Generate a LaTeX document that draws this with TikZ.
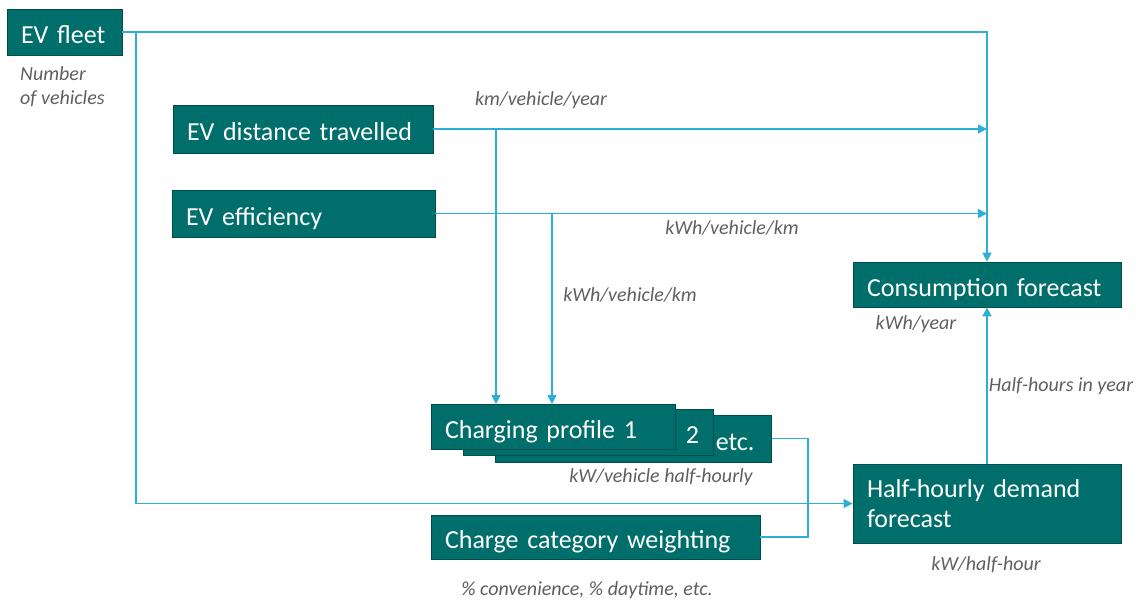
\documentclass[tikz,border=0pt]{standalone}
\usepackage{fontspec}
\setmainfont{Carlito}
\usetikzlibrary{arrows.meta}
\definecolor{boxfill}{RGB}{0,110,106}
\definecolor{boxline}{RGB}{0,78,76}
\definecolor{conn}{RGB}{45,176,216}
\definecolor{lbl}{RGB}{95,95,95}
\begin{document}
\begin{tikzpicture}[x=1pt,y=-1pt,
  box/.style={rectangle, fill=boxfill, draw=boxline, line width=0.8pt, text=white,
    font=\fontsize{26}{30}\selectfont, inner xsep=14pt, inner ysep=0pt, align=left},
  one/.style={box, text height=26pt, text depth=3pt},
  rbox/.style={one, align=right},
  lab/.style={text=lbl, font=\fontsize{20}{24}\selectfont\itshape, inner sep=0pt},
  link/.style={draw=conn, line width=1.6pt},
  arr/.style={link, -{Triangle[length=9pt,width=9pt]}}]
\useasboundingbox (0,0) rectangle (1136,603);
% nodes
\node[one, text width=87pt, minimum height=46pt] (fleet) at (64.5,32) {EV fleet};
\node[one, text width=232pt, minimum height=48pt] (dist) at (303,129) {EV distance travelled};
\node[one, text width=235pt, minimum height=47pt] (eff) at (303.5,213.5) {EV efficiency};
\node[one, text width=240pt, minimum height=45pt] (cons) at (987,284.5) {Consumption forecast};
\node[box, text width=240pt, minimum height=79pt] (hh) at (987,503.5) {Half-hourly demand\\forecast};
\node[rbox, text width=242pt, minimum height=47pt, inner xsep=17pt] (cp3) at (633.5,438.5) {etc.};
\node[rbox, text width=222pt, minimum height=46pt] (cp2) at (588,432) {2};
\node[one, text width=216pt, minimum height=45pt] (cp1) at (553,427) {Charging profile 1};
\node[one, text width=301pt, minimum height=44pt] (cat) at (595.5,537) {Charge category weighting};
% labels
\node[lab, anchor=north west, align=left] (lfleet) at (20,66) {Number\\of vehicles};
\node[lab] (ldist) at (541,100) {km/vehicle/year};
\node[lab] (leff) at (732,228) {kWh/vehicle/km};
\node[lab] (leff2) at (630,295) {kWh/vehicle/km};
\node[lab] (lcons) at (916,324) {kWh/year};
\node[lab] (lhhy) at (1061,386) {Half-hours in year};
\node[lab] (lcp) at (661,477) {kW/vehicle half-hourly};
\node[lab] (lhh) at (986,565) {kW/half-hour};
\node[lab] (lcat) at (587,590) {\% convenience, \% daytime, etc.};
% coordinates
\coordinate (fb) at (136,32);
\coordinate (db) at (496,128);
\coordinate (eb) at (552,214);
\coordinate (j) at (808,490);
\coordinate (c1) at (cons.north |- dist.east);
\coordinate (c2) at (cons.north |- eff.east);
% connectors
\draw[arr] (fleet.east) -| (cons.north);
\draw[arr] (fb) |- (hh.west);
\draw[arr] (dist.east) -- (c1);
\draw[arr] (db |- dist.east) -- (db |- cp1.north);
\draw[arr] (eff.east) -- (c2);
\draw[arr] (eb |- eff.east) -- (eb |- cp1.north);
\draw[link] (cp3.east) -| (j) |- (cat.east);
\draw[arr] (hh.north) -- (cons.south);
\end{tikzpicture}
\end{document}
